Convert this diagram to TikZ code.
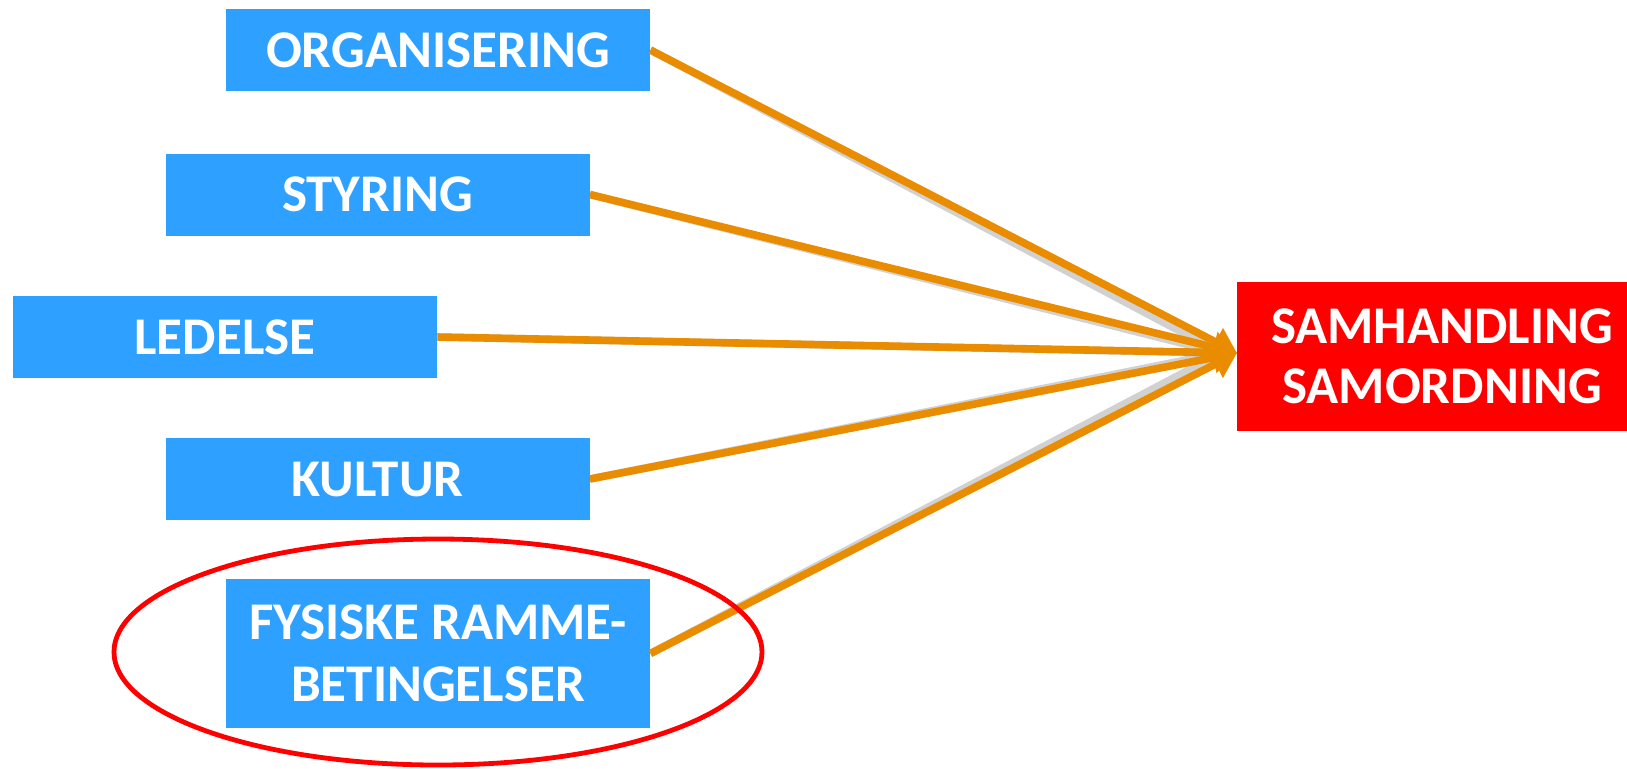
\documentclass[tikz,border=0pt]{standalone}
\usepackage{fontspec}
\setmainfont{Carlito}
\usetikzlibrary{arrows.meta}

\definecolor{boxblue}{RGB}{46,160,255}
\definecolor{arroworange}{RGB}{234,140,0}
\definecolor{targetred}{RGB}{255,0,0}

\begin{document}
\begin{tikzpicture}[x=0.5pt, y=-0.5pt,
    factor style/.style={fill=boxblue, text=white, font=\bfseries\fontsize{26.5}{31}\selectfont,
        minimum width=212pt, minimum height=41pt, inner sep=0pt, align=center},
    target style/.style={fill=targetred, text=white, font=\bfseries\fontsize{26.5}{30}\selectfont,
        minimum width=195pt, minimum height=74.5pt, inner sep=0pt, align=center},
    link style/.style={draw=arroworange, line width=3.8pt, -{Triangle[length=12pt, width=15pt]}},
    shadow style/.style={draw=black, opacity=0.18, line width=3.8pt, shift={(2,3)}},]
    \useasboundingbox (0,0) rectangle (1627,768);

    \node[style=factor style] (org) at (438,50) {ORGANISERING};
    \node[style=factor style] (sty) at (377.5,194.5) {STYRING};
    \node[style=factor style] (led) at (225,337) {LEDELSE};
    \node[style=factor style] (kul) at (377.5,479) {KULTUR};
    \node[style=factor style, minimum height=74.5pt] (fys) at (438,653.5) {FYSISKE RAMME-\\BETINGELSER};
    \node[style=target style] (sam) at (1432,356.5) {\hspace*{10pt}SAMHANDLING\\\hspace*{10pt}SAMORDNING};

    \coordinate (tip) at (1237,353);

    % shadows first
    \foreach \src in {org,sty,led,kul,fys}
        \draw[style=shadow style] (\src.east) -- ([xshift=-8pt]tip);

    \draw[style=link style] (org.east) -- (tip);
    \draw[style=link style] (sty.east) -- (tip);
    \draw[style=link style] (led.east) -- (tip);
    \draw[style=link style] (kul.east) -- (tip);
    \draw[style=link style] (fys.east) -- (tip);

    \draw[targetred, line width=2.4pt] (438,652) ellipse (324 and 113);

\end{tikzpicture}
\end{document}
